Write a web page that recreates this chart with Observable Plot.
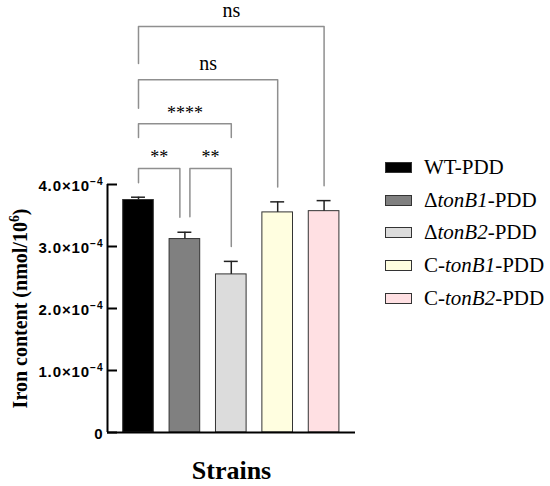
<!DOCTYPE html>
<html><head><meta charset="utf-8">
<script src="https://cdn.jsdelivr.net/npm/d3@7"></script>
<script src="https://cdn.jsdelivr.net/npm/@observablehq/plot@0.6"></script>
<style>
body{margin:0;background:#fff;}
#wrap{position:relative;width:550px;height:486px;}
#legend{position:absolute;left:385px;top:151px;font-family:"Liberation Serif","Times New Roman",serif;font-size:21px;color:#000;}
.row{display:flex;align-items:center;height:32.75px;}
.sw{width:25px;height:9px;border:1px solid #333;margin-right:12px;box-sizing:content-box;}
</style></head>
<body><div id="wrap"><div id="legend"></div></div>
<script>
// ---- data ----
const strains = ["WT-PDD", "ΔtonB1-PDD", "ΔtonB2-PDD", "C-tonB1-PDD", "C-tonB2-PDD"];
const legendPre = ["WT", "Δ", "Δ", "C-", "C-"];
const legendItalic = ["", "tonB1", "tonB2", "tonB1", "tonB2"];
const legendPost = ["-PDD", "-PDD", "-PDD", "-PDD", "-PDD"];
const means = [3.75e-4, 3.12e-4, 2.55e-4, 3.55e-4, 3.57e-4];
const errors = [0.045e-4, 0.11e-4, 0.21e-4, 0.17e-4, 0.17e-4];
const colors = ["#000000", "#808080", "#dcdcdc", "#fffee0", "#ffe0e3"];
const yTicks = [0, 1e-4, 2e-4, 3e-4, 4e-4];
const yTickLabels = ["0", "1.0×10⁻⁴", "2.0×10⁻⁴", "3.0×10⁻⁴", "4.0×10⁻⁴"];
// comparisons: strain indices, bracket level, leg ends, label
const compFrom = [0, 1, 0, 0, 0];
const compTo = [1, 2, 2, 3, 4];
const compLevel = [4.26e-4, 4.26e-4, 4.98e-4, 5.69e-4, 6.55e-4];
const compLegFrom = [4.03e-4, 3.48e-4, 4.76e-4, 5.23e-4, 5.95e-4];
const compLegTo = [3.47e-4, 3.0e-4, 4.76e-4, 3.96e-4, 3.98e-4];
const compLabels = ["**", "**", "****", "ns", "ns"];

// ---- derived tables ----
const data = strains.map((s, i) => ({i, strain: s, mean: means[i], err: errors[i], color: colors[i]}));
const halfBar = 0.33, halfCap = 0.15, shareGap = 0.108;
const xDomain = [-0.668, 4.677];

const comps = compFrom.map((a, k) => {
  const b = compTo[k];
  // if a neighbouring bracket at the same level shares an end, move apart
  const shareA = compFrom.some((a2, j) => j !== k && compLevel[j] === compLevel[k] && compTo[j] === a);
  const shareB = compFrom.some((a2, j) => j !== k && compLevel[j] === compLevel[k] && a2 === b);
  const xa = a + (shareA ? shareGap : 0), xb = b - (shareB ? shareGap : 0);
  return {k, xa, xb, level: compLevel[k], legA: compLegFrom[k], legB: compLegTo[k], label: compLabels[k], mid: (xa + xb) / 2};
});
const bracketPts = comps.flatMap(c => [
  {id: c.k, x: c.xa, y: c.legA}, {id: c.k, x: c.xa, y: c.level},
  {id: c.k, x: c.xb, y: c.level}, {id: c.k, x: c.xb, y: c.legB}
]);
const ticks = yTicks.map((t, i) => ({t, label: yTickLabels[i]}));
const serif = "Liberation Serif, Times New Roman, serif";

const chart = Plot.plot({
  width: 550, height: 486,
  marginLeft: 107, marginRight: 195, marginTop: 184, marginBottom: 54,
  x: {domain: xDomain, axis: null},
  y: {domain: [0, 4e-4], axis: null},
  style: {background: "#fff", overflow: "visible"},
  marks: [
    Plot.rectY(data, {x1: d => d.i - halfBar, x2: d => d.i + halfBar, y: "mean", fill: "color", stroke: "#333", strokeWidth: 1}),
    Plot.ruleX(data, {x: "i", y1: "mean", y2: d => d.mean + d.err, stroke: "#222", strokeWidth: 1.5}),
    Plot.ruleY(data, {y: d => d.mean + d.err, x1: d => d.i - halfCap, x2: d => d.i + halfCap, stroke: "#222", strokeWidth: 1.5}),
    Plot.line(bracketPts, {x: "x", y: "y", z: "id", stroke: "#8f8f8f", strokeWidth: 1.5}),
    Plot.text(comps.filter(c => c.label !== "ns"), {x: "mid", y: "level", text: "label", dy: -11, fontSize: 18, fontFamily: serif, fill: "#000"}),
    Plot.text(comps.filter(c => c.label === "ns"), {x: "mid", y: "level", text: "label", dy: -16, fontSize: 20, fontFamily: serif, fill: "#000"}),
    Plot.ruleX([xDomain[0]], {y1: 0, y2: 4e-4, stroke: "#000", strokeWidth: 2}),
    Plot.ruleY([0], {stroke: "#000", strokeWidth: 2}),
    Plot.tickY(yTicks, {y: d => d, insetRight: 238, stroke: "#000", strokeWidth: 2}),
    Plot.text(ticks, {y: "t", text: "label", frameAnchor: "left", textAnchor: "end", dx: -4, dy: 2, fontSize: 15, fontWeight: "bold", fontFamily: "Liberation Sans, Arial, sans-serif", fill: "#000"}),
    Plot.text(["Iron content (nmol/10⁶)"], {frameAnchor: "left", textAnchor: "middle", dx: -87, rotate: -90, fontSize: 20, fontWeight: "bold", fontFamily: serif, fill: "#000"}),
    Plot.text(["Strains"], {frameAnchor: "bottom", dy: 46, fontSize: 26, fontWeight: "bold", fontFamily: serif, fill: "#000"})
  ]
});

// render Unicode superscripts as raised tspans; widen tick labels slightly
const tickSet = new Set(yTickLabels);
const supMap = {"⁰":"0","¹":"1","²":"2","³":"3","⁴":"4","⁵":"5","⁶":"6","⁷":"7","⁸":"8","⁹":"9","⁻":"−"};
chart.querySelectorAll("text").forEach(t => {
  const s = t.textContent;
  if (tickSet.has(s)) t.setAttribute("letter-spacing", "0.9");
  const m = s.match(/^(.*?)([⁰¹²³⁴⁵⁶⁷⁸⁹⁻]+)(.*)$/);
  if (!m || t.querySelector("tspan")) return;
  const fs = parseFloat(t.closest("[font-size]")?.getAttribute("font-size") || 15);
  const NS = "http://www.w3.org/2000/svg";
  t.textContent = "";
  const a = document.createElementNS(NS, "tspan"); a.textContent = m[1];
  const b = document.createElementNS(NS, "tspan"); b.textContent = [...m[2]].map(c => supMap[c]).join("");
  b.setAttribute("font-size", fs * 0.68); b.setAttribute("dy", -fs * 0.42);
  t.append(a, b);
  if (m[3]) { const c = document.createElementNS(NS, "tspan"); c.textContent = m[3]; c.setAttribute("dy", fs * 0.42); t.append(c); }
});

const wrap = document.getElementById("wrap");
wrap.insertBefore(chart, wrap.firstChild);

const legend = document.getElementById("legend");
strains.forEach((s, i) => {
  const row = document.createElement("div");
  row.className = "row";
  const sw = document.createElement("div");
  sw.className = "sw";
  sw.style.background = colors[i];
  const lab = document.createElement("span");
  lab.append(legendPre[i]);
  if (legendItalic[i]) { const it = document.createElement("i"); it.textContent = legendItalic[i]; lab.append(it); }
  lab.append(legendPost[i]);
  row.append(sw, lab);
  legend.append(row);
});
</script></body></html>
